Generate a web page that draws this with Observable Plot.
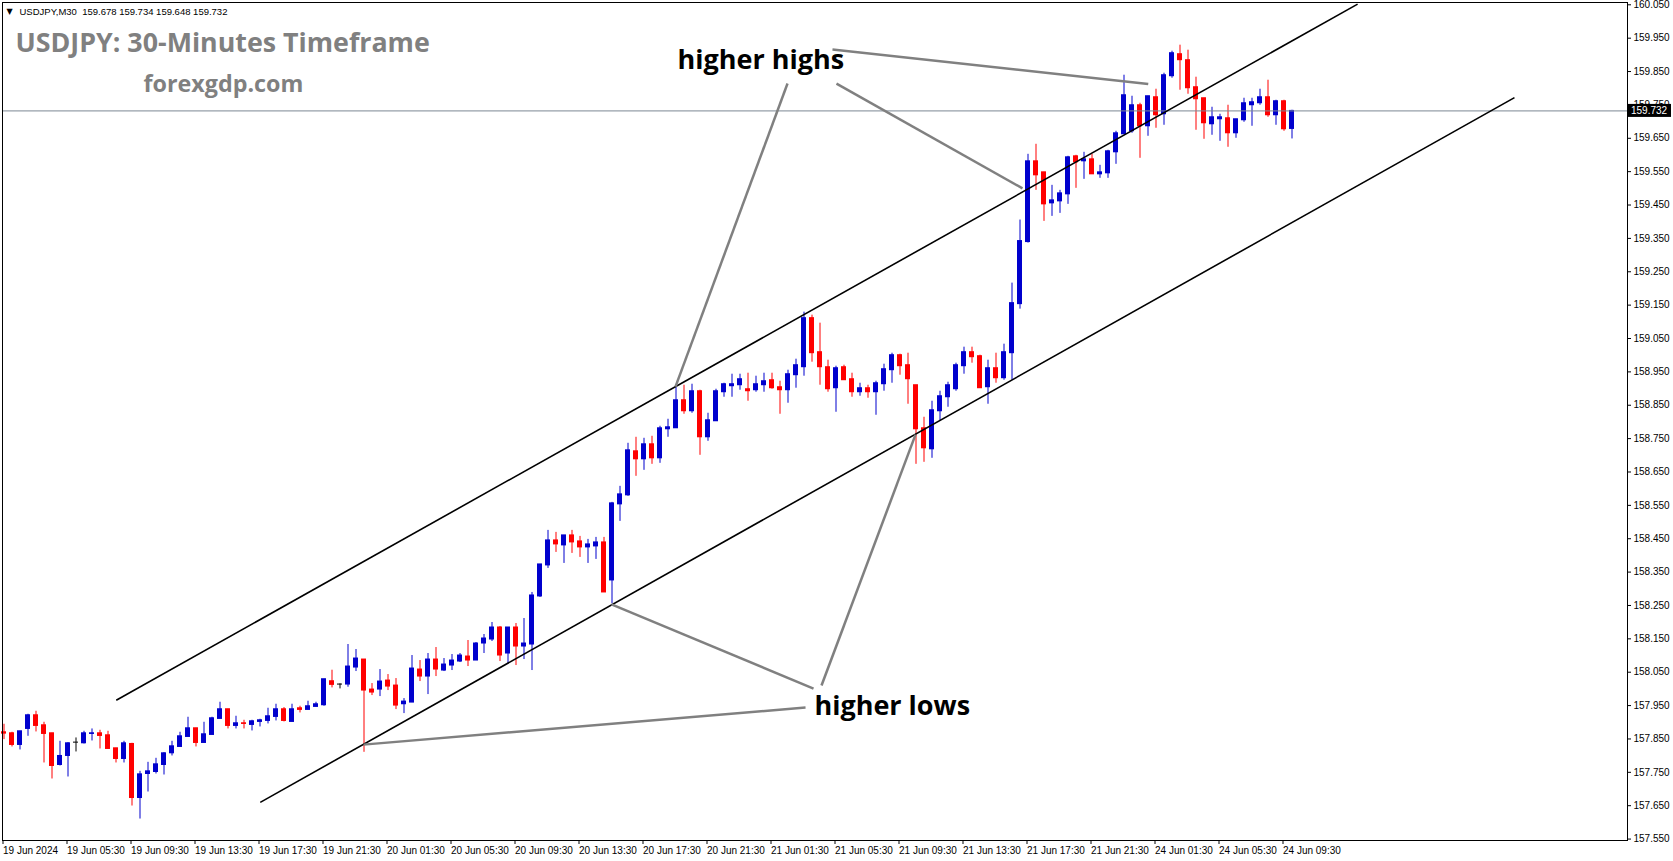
<!DOCTYPE html>
<html>
<head>
<meta charset="utf-8">
<script src="https://cdn.jsdelivr.net/npm/d3@7"></script>
<script src="https://cdn.jsdelivr.net/npm/@observablehq/plot@0.6"></script>
<style>
  html, body { margin: 0; padding: 0; background: #fff; }
  #chart svg { display: block; }
</style>
</head>
<body>
<div id="chart"></div>
<script>
// ---------- DATA (USDJPY M30) ----------
const symbol = "USDJPY,M30";
const titleText = "USDJPY: 30-Minutes Timeframe";
const siteText = "forexgdp.com";

const open = [
157.870,157.867,157.832,157.880,157.921,157.891,157.867,157.772,157.799,157.839,
157.837,157.865,157.867,157.861,157.822,157.790,157.835,157.673,157.745,157.751,
157.772,157.807,157.826,157.856,157.882,157.838,157.862,157.910,157.939,157.889,
157.897,157.892,157.901,157.904,157.916,157.939,157.901,157.942,157.937,157.946,
157.951,158.023,158.013,158.013,158.064,158.088,157.998,157.998,158.025,158.010,
157.954,157.959,158.058,158.037,158.088,158.055,158.070,158.082,158.097,158.085,
158.136,158.148,158.184,158.106,158.184,158.127,158.133,158.277,158.370,158.445,
158.430,158.460,158.442,158.424,158.427,158.439,158.325,158.553,158.580,158.712,
158.688,158.733,158.691,158.778,158.781,158.865,158.832,158.892,158.754,158.802,
158.889,158.907,158.910,158.898,158.895,158.910,158.925,158.904,158.895,158.940,
158.964,159.111,159.009,158.964,158.901,158.964,158.928,158.889,158.901,158.889,
158.913,158.955,159.000,158.970,158.910,158.781,158.718,158.832,158.874,158.898,
158.967,159.009,158.997,158.904,158.961,158.931,159.006,159.153,159.339,159.581,
159.548,159.455,159.461,159.482,159.596,159.581,159.587,159.542,159.545,159.608,
159.662,159.671,159.749,159.686,159.773,159.722,159.836,159.902,159.884,159.803,
159.770,159.692,159.707,159.710,159.665,159.704,159.749,159.755,159.773,159.719,
159.761,159.678
];
const high = [
157.894,157.870,157.873,157.924,157.933,157.900,157.867,157.843,157.839,157.853,
157.873,157.880,157.876,157.873,157.822,157.843,157.837,157.753,157.780,157.792,
157.809,157.843,157.870,157.915,157.882,157.900,157.915,157.960,157.939,157.918,
157.906,157.906,157.909,157.942,157.954,157.944,157.954,157.948,157.963,157.960,
158.029,158.056,158.015,158.133,158.118,158.088,158.016,158.058,158.043,158.031,
157.971,158.100,158.085,158.106,158.124,158.091,158.103,158.106,158.145,158.139,
158.163,158.199,158.187,158.184,158.196,158.211,158.289,158.373,158.475,158.469,
158.460,158.475,158.457,158.448,158.454,158.454,158.559,158.607,158.736,158.754,
158.751,158.757,158.787,158.808,158.910,158.910,158.913,158.895,158.826,158.898,
158.916,158.943,158.943,158.946,158.937,158.946,158.946,158.922,158.955,158.988,
159.129,159.120,159.096,158.985,158.967,158.970,158.946,158.916,158.910,158.922,
158.973,159.006,159.003,159.006,158.910,158.814,158.862,158.892,158.919,158.976,
159.024,159.024,159.000,158.985,159.006,159.033,159.216,159.405,159.602,159.632,
159.548,159.509,159.494,159.596,159.599,159.608,159.602,159.569,159.614,159.671,
159.839,159.776,159.755,159.776,159.797,159.845,159.911,159.929,159.914,159.833,
159.770,159.743,159.722,159.749,159.707,159.770,159.770,159.797,159.824,159.764,
159.764,159.734
];
const low = [
157.848,157.826,157.817,157.858,157.871,157.778,157.730,157.769,157.736,157.811,
157.835,157.844,157.820,157.820,157.778,157.778,157.649,157.610,157.691,157.745,
157.742,157.799,157.826,157.856,157.826,157.838,157.862,157.910,157.880,157.880,
157.880,157.874,157.886,157.895,157.904,157.901,157.901,157.928,157.937,157.946,
157.948,158.003,158.000,158.005,158.052,157.810,157.980,157.977,157.995,157.938,
157.926,157.959,158.022,157.983,158.037,158.052,158.055,158.079,158.067,158.085,
158.106,158.142,158.082,158.076,158.070,158.088,158.055,158.274,158.361,158.409,
158.376,158.406,158.394,158.376,158.388,158.289,158.255,158.502,158.577,158.637,
158.655,158.673,158.676,158.754,158.781,158.823,158.826,158.700,158.742,158.802,
158.874,158.874,158.895,158.862,158.889,158.889,158.898,158.823,158.856,158.901,
158.937,158.979,158.910,158.889,158.829,158.925,158.874,158.877,158.871,158.820,
158.892,158.916,158.940,158.853,158.673,158.679,158.691,158.802,158.844,158.892,
158.943,158.976,158.901,158.853,158.916,158.925,158.925,159.138,159.336,159.494,
159.401,159.416,159.425,159.452,159.500,159.527,159.542,159.530,159.530,159.572,
159.662,159.665,159.590,159.656,159.680,159.689,159.830,159.794,159.782,159.674,
159.647,159.659,159.641,159.623,159.650,159.698,159.686,159.749,159.713,159.689,
159.671,159.648
];
const close = [
157.866,157.832,157.873,157.921,157.889,157.865,157.769,157.799,157.837,157.839,
157.867,157.867,157.859,157.820,157.790,157.837,157.673,157.744,157.753,157.774,
157.807,157.828,157.858,157.882,157.838,157.864,157.912,157.939,157.889,157.897,
157.895,157.903,157.906,157.918,157.939,157.904,157.939,157.937,157.948,157.954,
158.029,158.012,158.013,158.067,158.091,157.995,157.989,158.022,158.007,157.950,
157.962,158.061,158.037,158.088,158.058,158.073,158.085,158.100,158.085,158.136,
158.151,158.184,158.100,158.184,158.127,158.136,158.280,158.373,158.445,158.433,
158.460,158.439,158.424,158.433,158.439,158.289,158.556,158.583,158.715,158.688,
158.733,158.691,158.781,158.784,158.865,158.832,158.892,158.754,158.805,158.892,
158.913,158.913,158.928,158.892,158.913,158.922,158.901,158.895,158.943,158.970,
159.111,159.006,158.964,158.898,158.961,158.925,158.889,158.901,158.889,158.916,
158.958,159.000,158.967,158.928,158.778,158.721,158.835,158.877,158.910,158.970,
159.009,158.994,158.901,158.961,158.931,159.009,159.156,159.342,159.581,159.539,
159.452,159.464,159.485,159.593,159.578,159.587,159.542,159.548,159.611,159.665,
159.779,159.749,159.686,159.776,159.719,159.839,159.905,159.884,159.800,159.767,
159.695,159.713,159.713,159.665,159.707,159.755,159.758,159.773,159.719,159.761,
159.677,159.732
];

// x-axis ticks (bar index) and their labels
const xTickBars = [0,8,16,24,32,40,48,56,64,72,80,88,96,104,112,120,128,136,144,152,160];
const xTickLabels = [
  "19 Jun 2024","19 Jun 05:30","19 Jun 09:30","19 Jun 13:30","19 Jun 17:30","19 Jun 21:30",
  "20 Jun 01:30","20 Jun 05:30","20 Jun 09:30","20 Jun 13:30","20 Jun 17:30","20 Jun 21:30",
  "21 Jun 01:30","21 Jun 05:30","21 Jun 09:30","21 Jun 13:30","21 Jun 17:30","21 Jun 21:30",
  "24 Jun 01:30","24 Jun 05:30","24 Jun 09:30"
];
// y-axis ticks
const yTicks = [157.55,157.65,157.75,157.85,157.95,158.05,158.15,158.25,158.35,158.45,
  158.55,158.65,158.75,158.85,158.95,159.05,159.15,159.25,159.35,159.45,159.55,159.65,
  159.75,159.85,159.95,160.05];

// channel lines (bar index, price)
const channelX1 = [14.03, 32.03];
const channelY1 = [157.966, 157.660];
const channelX2 = [169.2, 188.81];
const channelY2 = [160.052, 159.772];

// annotation pointer lines (bar index, price)
const annX1 = [103.56, 97.94, 104.06, 102.19, 101.19, 100.19];
const annY1 = [159.916, 159.814, 159.814, 158.010, 158.001, 157.944];
const annX2 = [143.03, 83.94, 127.31, 113.94, 75.94, 44.94];
const annY2 = [159.813, 158.906, 159.500, 158.762, 158.253, 157.833];

// annotation labels
const labelText = ["higher highs", "higher lows"];
const labelX = [84.2, 101.3];
const labelY = [159.883, 157.948];

// ---------- CHART ----------
const bull = "#0000cd", bear = "#ff0000", dojiC = "#000000";
const bars = open.map((o, i) => ({i, o, h: high[i], l: low[i], c: close[i]}));
const col = d => d.c > d.o ? bull : d.c < d.o ? bear : dojiC;
const last = bars[bars.length - 1];
const labelByBar = new Map(xTickBars.map((b, k) => [b, xTickLabels[k]]));
const headerText = symbol + "\u00a0\u00a0" + [last.o, last.h, last.l, last.c].map(v => v.toFixed(3)).join(" ");

const chart = Plot.plot({
  width: 1673,
  height: 861,
  marginLeft: 2,
  marginRight: 46,
  marginTop: 2,
  marginBottom: 21,
  style: {fontFamily: "'Liberation Sans', Arial, sans-serif", fontSize: "10px", background: "#fff", color: "#000", overflow: "visible"},
  x: {domain: [-0.1875, 202.9375], axis: null, label: null},
  y: {domain: [157.5457, 160.0569], axis: null, label: null},
  marks: [
    Plot.ruleX(bars, {x: "i", y1: "l", y2: "h", stroke: col, strokeWidth: 1}),
    Plot.rect(bars, {x1: d => d.i - 0.3125, x2: d => d.i + 0.3125, y1: "o", y2: "c", fill: col, insetTop: -0.5, insetBottom: -0.5}),
    Plot.ruleY([last.c], {stroke: "#7b8794", strokeWidth: 1}),
    Plot.link(channelX1.map((_, k) => k), {
      x1: k => channelX1[k], y1: k => channelY1[k], x2: k => channelX2[k], y2: k => channelY2[k],
      stroke: "#000", strokeWidth: 1.6
    }),
    Plot.link(annX1.map((_, k) => k), {
      x1: k => annX1[k], y1: k => annY1[k], x2: k => annX2[k], y2: k => annY2[k],
      stroke: "#808080", strokeWidth: 2.5
    }),
    Plot.text(labelText.map((_, k) => k), {
      x: k => labelX[k], y: k => labelY[k], text: k => labelText[k],
      textAnchor: "start", lineAnchor: "middle", fontSize: 27, fontWeight: "bold",
      fontFamily: "'Open Sans', sans-serif", fill: "#000"
    }),
    Plot.text([titleText], {frameAnchor: "top-left", dx: 13, dy: 30, lineAnchor: "top", textAnchor: "start",
      fontSize: 26.8, fontWeight: "bold", fontFamily: "'Open Sans', sans-serif", fill: "#808080"}),
    Plot.text([siteText], {frameAnchor: "top-left", dx: 141, dy: 73, lineAnchor: "top", textAnchor: "start",
      fontSize: 23.3, fontWeight: "bold", fontFamily: "'Open Sans', sans-serif", fill: "#808080"}),
    Plot.text(["\u25BC"], {frameAnchor: "top-left", dx: 4, dy: 9, lineAnchor: "middle", textAnchor: "start",
      fontSize: 8, fill: "#000", fontFamily: "'DejaVu Sans', sans-serif"}),
    Plot.text([headerText], {frameAnchor: "top-left", dx: 17, dy: 9, lineAnchor: "middle", textAnchor: "start",
      fontSize: 9.5, fill: "#000"}),
    Plot.frame({stroke: "#000", strokeWidth: 1}),
    Plot.axisY(yTicks, {anchor: "right", label: null, tickSize: 3, tickPadding: 3, tickFormat: d => d.toFixed(3), fontSize: 10}),
    Plot.axisX(xTickBars, {anchor: "bottom", label: null, tickSize: 4, tickPadding: 2, tickFormat: d => labelByBar.get(d),
      textAnchor: "start", dx: -1, fontSize: 10})
  ]
});

// current-price label box on the price axis
const yScale = chart.scale("y");
const yp = yScale.apply(last.c);
const svg = d3.select(chart);
svg.append("rect").attr("x", 1627).attr("y", yp - 6.5).attr("width", 44).attr("height", 13).attr("fill", "#000");
svg.append("text").attr("x", 1631).attr("y", yp).attr("dy", "0.35em").attr("fill", "#fff")
  .attr("text-anchor", "start")
  .attr("font-size", 10).attr("font-family", "'Liberation Sans', Arial, sans-serif").text(last.c.toFixed(3));

document.getElementById("chart").appendChild(chart);
</script>
</body>
</html>
